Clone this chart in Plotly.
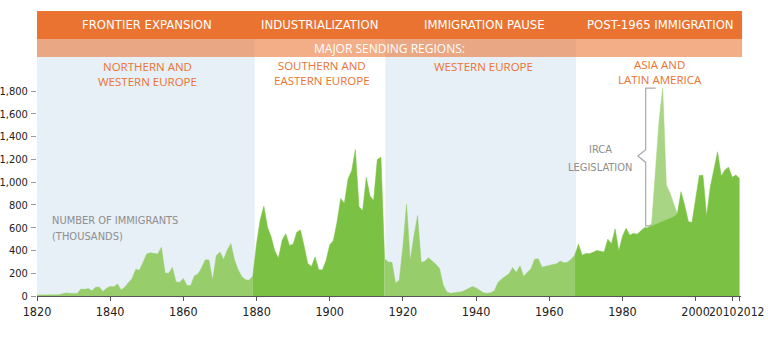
import plotly.graph_objects as go

# ---------------- data (thousands of immigrants per year) ----------------
years = list(range(1820, 2013))
immigrants = [
    8.4, 9.1, 6.9, 6.4, 7.9, 10.2, 10.8, 18.9, 27.4, 22.5,
    23.3, 22.6, 60.5, 58.6, 65.4, 45.4, 76.2, 79.3, 38.9, 68.1,
    84.1, 80.3, 104.6, 52.5, 78.6, 114.4, 154.4, 235.0, 226.5, 297.0,
    370.0, 379.5, 371.6, 368.6, 427.8, 200.9, 200.4, 251.3, 123.1, 121.3,
    153.6, 91.9, 92.0, 176.3, 193.4, 248.1, 318.6, 315.7, 138.8, 352.8,
    387.2, 321.4, 404.8, 459.8, 313.3, 227.5, 170.0, 141.9, 138.5, 177.8,
    457.3, 669.4, 789.0, 603.3, 518.6, 395.3, 334.2, 490.1, 546.9, 444.4,
    455.3, 560.3, 579.7, 439.7, 285.6, 258.5, 343.3, 230.8, 229.3, 311.7,
    448.6, 487.9, 648.7, 857.0, 812.9, 1026.5, 1100.7, 1285.3, 782.9, 751.8,
    1041.6, 878.6, 838.2, 1197.9, 1218.5, 326.7, 298.8, 295.4, 110.6, 141.1,
    430.0, 805.2, 309.6, 522.9, 706.9, 294.3, 304.5, 335.2, 307.3, 279.7,
    241.7, 97.1, 35.6, 23.1, 29.5, 35.0, 36.3, 50.2, 67.9, 82.9,
    70.8, 51.8, 28.8, 23.7, 28.6, 45.0, 118.0, 150.0, 175.0, 195.0,
    249.2, 205.7, 265.5, 170.4, 208.2, 237.8, 321.6, 326.9, 253.3, 260.7,
    265.4, 271.3, 283.8, 306.3, 292.2, 297.0, 323.0, 362.0, 454.4, 358.6,
    373.3, 370.5, 384.7, 398.5, 393.9, 385.4, 499.1, 458.8, 589.8, 394.2,
    524.3, 595.0, 533.6, 550.1, 541.8, 568.1, 600.0, 599.9, 641.3, 1090.2,
    1535.9, 1826.6, 973.4, 903.9, 803.9, 720.2, 915.6, 797.8, 653.2, 644.8,
    841.0, 1058.9, 1059.4, 703.5, 957.9, 1122.3, 1266.1, 1052.4, 1107.1, 1130.8,
    1042.6, 1062.0, 1031.6,
]
# non-IRCA immigration underneath the IRCA legalization spike
irca_years = list(range(1987, 1996))
irca_base = [600, 615, 628, 642, 655, 668, 680, 694, 720]

period_names = ["FRONTIER EXPANSION", "INDUSTRIALIZATION", "IMMIGRATION PAUSE", "POST-1965 IMMIGRATION"]
period_centers = [1850.1, 1897.3, 1942.2, 1990.3]
region_labels = [
    ("NORTHERN AND<br>WESTERN EUROPE", 1850.3, 0.929),
    ("SOUTHERN AND<br>EASTERN EUROPE", 1897.9, 0.934),
    ("WESTERN EUROPE", 1941.9, 0.961),
    ("ASIA AND<br>LATIN AMERICA", 1990.3, 0.937),
]
shaded_periods = [(1820, 1879.5), (1915.2, 1967.3)]
y_ticks = [0, 200, 400, 600, 800, 1000, 1200, 1400, 1600, 1800]
x_ticks = [1820, 1840, 1860, 1880, 1900, 1920, 1940, 1960, 1980, 2000, 2010, 2012]
x_ticktext = ["1820", "1840", "1860", "1880", "1900", "1920", "1940", "1960", "1980", "2000", "", ""]

# ---------------- styles ----------------
NARROW = "DejaVu Sans Condensed, Liberation Sans Narrow, sans-serif"
SANS = "Open Sans, Lato, sans-serif"
DARK = "#7BC143"
LIGHT = "#98CD6C"
IRCA = "#A8D583"
SHADE = "#E7EFF7"
ORANGE = "#EA7331"
ORANGE_TXT = "#EA7331"
GRAY = "#8E8E8E"
TICK_TXT = "#222"

def segment(y0, y1, vals=None):
    i0, i1 = years.index(y0), years.index(y1)
    xs = years[i0:i1 + 1]
    ys = immigrants[i0:i1 + 1] if vals is None else vals
    return xs, ys

fig = go.Figure()

def area(xs, ys, color):
    fig.add_trace(go.Scatter(x=xs, y=ys, mode="lines", fill="tozeroy",
                             line=dict(color=color, width=0.5), fillcolor=color,
                             hoverinfo="skip", showlegend=False))

area(*segment(1820, 1879), LIGHT)
area(*segment(1879, 1915), DARK)
area(*segment(1915, 1967), LIGHT)
area(*segment(irca_years[0], irca_years[-1]), IRCA)
post_x, post_y = segment(1967, 2012)
post_y = [irca_base[irca_years.index(x)] if x in irca_years else v for x, v in zip(post_x, post_y)]
area(post_x, post_y, DARK)

shapes = []
for a, b in shaded_periods:
    shapes.append(dict(type="rect", xref="x", yref="paper", x0=a, x1=b, y0=0, y1=1.0753,
                       fillcolor=SHADE, line=dict(width=0), layer="below"))
# top period band
shapes.append(dict(type="rect", xref="paper", yref="paper", x0=0, x1=1.0015, y0=1.0753, y1=1.1925,
                   fillcolor=ORANGE, line=dict(width=0), layer="above"))
# translucent "major sending regions" band
shapes.append(dict(type="rect", xref="paper", yref="paper", x0=0, x1=1.0015, y0=1.0, y1=1.0753,
                   fillcolor="rgba(234,115,49,0.58)", line=dict(width=0), layer="above"))
# IRCA bracket
shapes.append(dict(type="path", xref="x", yref="y",
                   path="M 1989.1,1826 L 1986.35,1826 L 1986.35,1285 L 1984.2,1229 L 1986.35,1173 L 1986.35,615 L 1987.7,615",
                   line=dict(color="#A9A9A9", width=1.2)))

ann = []
for name, cx in zip(period_names, period_centers):
    ann.append(dict(text=name, x=cx, xref="x", y=1.134, yref="paper", showarrow=False,
                    font=dict(family=NARROW, size=13, color="white"), xanchor="center", yanchor="middle"))
ann.append(dict(text="MAJOR SENDING REGIONS:", x=0.501, xref="paper", y=1.037, yref="paper",
                showarrow=False, font=dict(family=SANS, size=12, color="white"),
                xanchor="center", yanchor="middle"))
for txt, cx, cy in region_labels:
    ann.append(dict(text=txt, x=cx, xref="x", y=cy, yref="paper", showarrow=False, align="center",
                    font=dict(family=SANS, size=11.5, color=ORANGE_TXT), xanchor="center", yanchor="middle"))
ann.append(dict(text="NUMBER OF IMMIGRANTS", x=0.018, xref="paper", y=0.314, yref="paper",
                showarrow=False, font=dict(family=NARROW, size=11, color=GRAY),
                xanchor="left", yanchor="middle"))
ann.append(dict(text="(THOUSANDS)", x=0.018, xref="paper", y=0.247, yref="paper",
                showarrow=False, font=dict(family=NARROW, size=11, color=GRAY),
                xanchor="left", yanchor="middle"))
ann.append(dict(text="IRCA", x=1973.9, xref="x", y=0.612, yref="paper", showarrow=False,
                font=dict(family=NARROW, size=11, color=GRAY), xanchor="center", yanchor="middle"))
ann.append(dict(text="LEGISLATION", x=1973.9, xref="x", y=0.537, yref="paper", showarrow=False,
                font=dict(family=NARROW, size=11, color=GRAY), xanchor="center", yanchor="middle"))
ann.append(dict(text="2010", x=2012, xref="x", xshift=-1, y=-0.067, yref="paper", showarrow=False,
                font=dict(family=NARROW, size=12, color=TICK_TXT), xanchor="right", yanchor="middle"))
ann.append(dict(text="2012", x=1.0355, xref="paper", y=-0.067, yref="paper", showarrow=False,
                font=dict(family=NARROW, size=12, color=TICK_TXT), xanchor="right", yanchor="middle"))

fig.update_layout(
    width=768, height=361,
    margin=dict(l=37, r=27, t=57, b=65, autoexpand=False),
    paper_bgcolor="white", plot_bgcolor="white",
    shapes=shapes, annotations=ann,
    xaxis=dict(range=[1820, 2012.4], tickvals=x_ticks, ticktext=x_ticktext, tickangle=0,
               automargin=False,
               showgrid=False, zeroline=False, showline=True, linecolor="#555", linewidth=1,
               ticks="outside", ticklen=4, tickcolor="#555",
               tickfont=dict(family=NARROW, size=12.5, color=TICK_TXT)),
    yaxis=dict(range=[0, 2098.5], tickvals=y_ticks, tickformat=",",
               automargin=False, ticklabelstandoff=1,
               showgrid=False, zeroline=False, showline=False,
               ticks="outside", ticklen=5, tickcolor="#999",
               tickfont=dict(family=NARROW, size=11, color=TICK_TXT)),
)

# remove the browser's default 8px page margin so the figure sits at the window's corner
fig.write_html("out.html", config={"displayModeBar": False},
               post_script="document.body.style.margin='0px';")
